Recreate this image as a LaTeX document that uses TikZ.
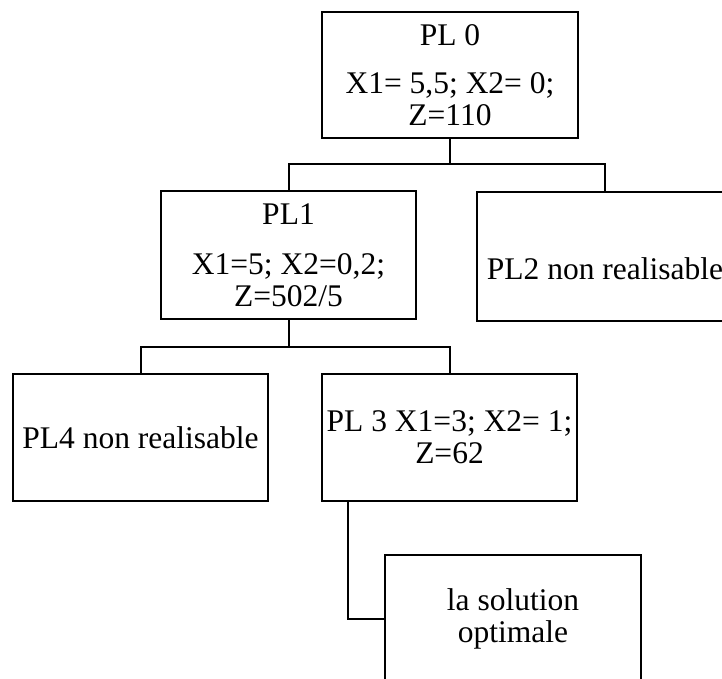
\documentclass[tikz,border=0pt]{standalone}
\usepackage{fontspec}
\setmainfont{Liberation Serif}
\begin{document}
\begin{tikzpicture}[x=1pt,y=-1pt,
  box/.style={draw=black, line width=2pt, rectangle, inner sep=0pt,
    minimum width=256pt, minimum height=127pt, align=center,
    font=\fontsize{31.5}{32}\selectfont},
  link/.style={draw=black, line width=2pt}]
\useasboundingbox (0,0) rectangle (722,679);
\clip (0,0) rectangle (722,679);
\node[box, minimum height=126pt] (pl0) at (450,75) {PL 0\\[16pt]X1= 5,5; X2= 0;\\Z=110};
\node[box, minimum width=255pt, minimum height=128pt] (pl1) at (288.5,255) {PL1\\[18pt]X1=5; X2=0,2;\\Z=502/5};
\node[box, minimum height=129pt, text height=45pt, text depth=0pt] (pl2) at (605,256.5) {PL2 non realisable};
\node[box, minimum width=255pt] (pl4) at (140.5,437.5) {PL4 non realisable};
\node[box, minimum width=255pt] (pl3) at (449.5,437.5) {PL 3 X1=3; X2= 1;\\Z=62};
\node[box] (sol) at (513,618.5) {la solution\\optimale};
\coordinate (j0) at (450,164);
\coordinate (j1) at (288.5,347);
\coordinate (p3out) at (348,501);
\draw[link] (pl0.south) -- (j0);
\draw[link] (j0) -| (pl1.north);
\draw[link] (j0) -| (pl2.north);
\draw[link] (pl1.south) -- (j1);
\draw[link] (j1) -| (pl4.north);
\draw[link] (j1) -| (pl3.north);
\draw[link] (p3out) |- (sol.west);
\end{tikzpicture}
\end{document}
